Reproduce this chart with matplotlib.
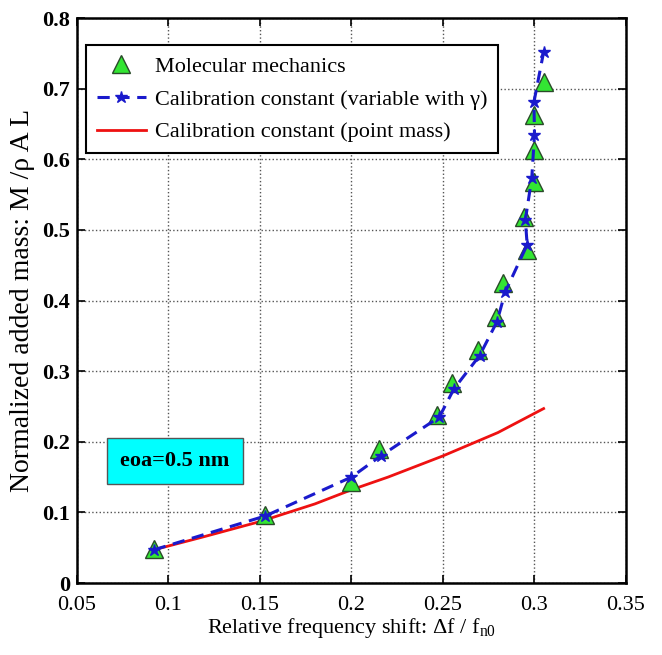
import matplotlib
matplotlib.use('Agg')
import matplotlib.pyplot as plt

# Molecular mechanics (triangles)
mm_x = [0.092, 0.153, 0.200, 0.215, 0.247, 0.255, 0.269, 0.279, 0.283, 0.294, 0.296, 0.2995, 0.300, 0.2997, 0.305]
mm_y = [0.048, 0.097, 0.143, 0.190, 0.238, 0.283, 0.330, 0.377, 0.425, 0.518, 0.472, 0.568, 0.613, 0.663, 0.710]

# Calibration constant, variable with gamma (blue dashed, stars)
var_x = [0.092, 0.153, 0.200, 0.216, 0.248, 0.256, 0.270, 0.2795, 0.284, 0.296, 0.295, 0.2985, 0.300, 0.2997, 0.305]
var_y = [0.047, 0.095, 0.150, 0.180, 0.235, 0.275, 0.322, 0.370, 0.412, 0.479, 0.514, 0.573, 0.635, 0.681, 0.752]

# Calibration constant, point mass (red)
pm_x = [0.092, 0.12, 0.15, 0.18, 0.20, 0.22, 0.25, 0.28, 0.305]
pm_y = [0.047, 0.066, 0.087, 0.112, 0.132, 0.150, 0.180, 0.213, 0.247]

xticks = [0.05, 0.1, 0.15, 0.2, 0.25, 0.3, 0.35]
xlabels = ['0.05', '0.1', '0.15', '0.2', '0.25', '0.3', '0.35']
yticks = [0, 0.1, 0.2, 0.3, 0.4, 0.5, 0.6, 0.7, 0.8]
ylabels = ['0', '0.1', '0.2', '0.3', '0.4', '0.5', '0.6', '0.7', '0.8']

plt.rcParams['font.family'] = ['Liberation Serif', 'DejaVu Serif']
plt.rcParams['mathtext.fontset'] = 'custom'
plt.rcParams['mathtext.rm'] = 'Liberation Serif'
plt.rcParams['mathtext.it'] = 'Liberation Serif:italic'

fig = plt.figure(figsize=(6.62, 6.55), dpi=100)
ax = fig.add_axes([0.1163, 0.1099, 0.8293, 0.8626])

ax.plot(pm_x, pm_y, color='#ee1111', lw=2, label='Calibration constant (point mass)', zorder=2)
ax.plot(var_x, var_y, color='#1a1acc', lw=2.2, ls=(0, (4, 2.5)), marker='*', ms=9,
        label='Calibration constant (variable with γ)', zorder=4)
ax.plot(mm_x, mm_y, ls='none', marker='^', ms=13, mfc='#33e533', mec='#2a4a2a', mew=1,
        label='Molecular mechanics', zorder=3)

ax.set_xlim(0.05, 0.35)
ax.set_ylim(0, 0.8)
ax.set_xticks(xticks)
ax.set_xticklabels(xlabels)
ax.set_yticks(yticks)
ax.set_yticklabels(ylabels, fontweight='bold')
ax.tick_params(direction='in', top=True, right=True, length=6, width=1.2, labelsize=16)
ax.tick_params(axis='x', pad=9)
ax.tick_params(axis='y', pad=5)
ax.grid(True, ls=':', color='#555555', lw=1)
for s in ax.spines.values():
    s.set_linewidth(1.8)

ax.set_xlabel(r'Relative frequency shift: Δf / f$_{\mathrm{n0}}$', fontsize=16, labelpad=1)
ax.set_ylabel('Normalized added mass: M /ρ A L', fontsize=20, labelpad=5)

h, l = ax.get_legend_handles_labels()
leg = ax.legend([h[2], h[1], h[0]], [l[2], l[1], l[0]], loc='upper left',
                bbox_to_anchor=(0.016, 0.952), borderaxespad=0, fontsize=16,
                fancybox=False, framealpha=1, edgecolor='black', handlelength=2.2,
                handletextpad=0.4, borderpad=0.5, labelspacing=0.55)
leg.get_frame().set_linewidth(1.5)

ax.text(0.1785, 0.216, 'eoa=0.5 nm', transform=ax.transAxes, ha='center', va='center',
        fontsize=16, fontweight='bold',
        bbox=dict(boxstyle='square,pad=0.6', facecolor='#00ffff', edgecolor='#555555', lw=1))

fig.savefig('out.png', dpi=100)
